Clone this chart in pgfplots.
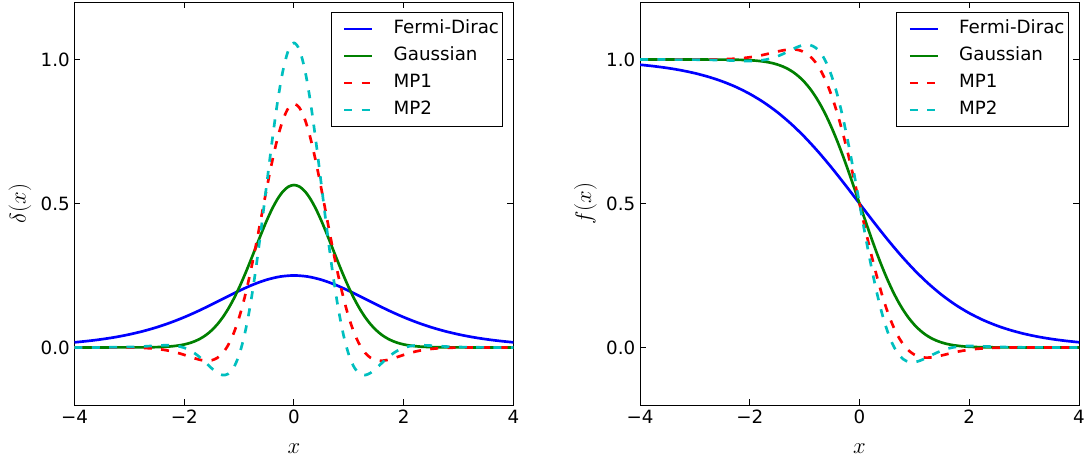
\documentclass[border=0pt]{standalone}
\usepackage[no-math]{fontspec}
\setmainfont{DejaVu Sans}
\usepackage{fix-cm}
\usepackage{pgfplots}
\usepackage{pgfplotstable}
\pgfplotsset{compat=1.18}

\definecolor{mpblue}{rgb}{0,0,1}
\definecolor{mpgreen}{rgb}{0,0.5,0}
\definecolor{mpred}{rgb}{1,0,0}
\definecolor{mpcyan}{rgb}{0,0.75,0.75}

% Fermi-Dirac: x, delta, occupation
\pgfplotstableread{
x      d       f
-4.00  0.0177  0.9820
-3.75  0.0225  0.9770
-3.50  0.0285  0.9707
-3.25  0.0359  0.9627
-3.00  0.0452  0.9526
-2.75  0.0565  0.9399
-2.50  0.0701  0.9241
-2.25  0.0863  0.9047
-2.00  0.1050  0.8808
-1.75  0.1261  0.8520
-1.50  0.1492  0.8176
-1.25  0.1731  0.7773
-1.00  0.1966  0.7311
-0.75  0.2179  0.6792
-0.50  0.2350  0.6225
-0.25  0.2461  0.5622
 0.00  0.2500  0.5000
 0.25  0.2461  0.4378
 0.50  0.2350  0.3775
 0.75  0.2179  0.3208
 1.00  0.1966  0.2689
 1.25  0.1731  0.2227
 1.50  0.1492  0.1824
 1.75  0.1261  0.1480
 2.00  0.1050  0.1192
 2.25  0.0863  0.0954
 2.50  0.0701  0.0759
 2.75  0.0565  0.0601
 3.00  0.0452  0.0474
 3.25  0.0359  0.0373
 3.50  0.0285  0.0293
 3.75  0.0225  0.0230
 4.00  0.0177  0.0180
}\fdtab

% delta functions: Gaussian, MP1, MP2
\pgfplotstableread{
x     g       mpa      mpb
-4.0  0.0000  0.0000   0.0000
-3.5  0.0000  0.0000   0.0001
-3.0  0.0001  -0.0005  0.0014
-2.9  0.0001  -0.0008  0.0019
-2.8  0.0002  -0.0014  0.0029
-2.7  0.0004  -0.0022  0.0039
-2.6  0.0007  -0.0034  0.0051
-2.5  0.0011  -0.0052  0.0063
-2.4  0.0018  -0.0076  0.0072
-2.3  0.0028  -0.0108  0.0075
-2.2  0.0045  -0.0149  0.0066
-2.1  0.0069  -0.0200  0.0039
-2.0  0.0103  -0.0258  -0.0013
-1.9  0.0153  -0.0322  -0.0097
-1.8  0.0221  -0.0384  -0.0216
-1.7  0.0314  -0.0436  -0.0368
-1.6  0.0436  -0.0462  -0.0544
-1.5  0.0595  -0.0446  -0.0725
-1.4  0.0795  -0.0366  -0.0878
-1.3  0.1041  -0.0198  -0.0960
-1.2  0.1337  0.0080   -0.0920
-1.1  0.1682  0.0488   -0.0703
-1.0  0.2076  0.1038   -0.0259
-0.9  0.2510  0.1732   0.0447
-0.8  0.2975  0.2558   0.1427
-0.7  0.3456  0.3491   0.2662
-0.6  0.3936  0.4487   0.4093
-0.5  0.4394  0.5492   0.5630
-0.4  0.4808  0.6442   0.7153
-0.3  0.5156  0.7270   0.8529
-0.2  0.5421  0.7914   0.9626
-0.1  0.5586  0.8323   1.0334
 0.0  0.5642  0.8463   1.0579
 0.1  0.5586  0.8323   1.0334
 0.2  0.5421  0.7914   0.9626
 0.3  0.5156  0.7270   0.8529
 0.4  0.4808  0.6442   0.7153
 0.5  0.4394  0.5492   0.5630
 0.6  0.3936  0.4487   0.4093
 0.7  0.3456  0.3491   0.2662
 0.8  0.2975  0.2558   0.1427
 0.9  0.2510  0.1732   0.0447
 1.0  0.2076  0.1038   -0.0259
 1.1  0.1682  0.0488   -0.0703
 1.2  0.1337  0.0080   -0.0920
 1.3  0.1041  -0.0198  -0.0960
 1.4  0.0795  -0.0366  -0.0878
 1.5  0.0595  -0.0446  -0.0725
 1.6  0.0436  -0.0462  -0.0544
 1.7  0.0314  -0.0436  -0.0368
 1.8  0.0221  -0.0384  -0.0216
 1.9  0.0153  -0.0322  -0.0097
 2.0  0.0103  -0.0258  -0.0013
 2.1  0.0069  -0.0200  0.0039
 2.2  0.0045  -0.0149  0.0066
 2.3  0.0028  -0.0108  0.0075
 2.4  0.0018  -0.0076  0.0072
 2.5  0.0011  -0.0052  0.0063
 2.6  0.0007  -0.0034  0.0051
 2.7  0.0004  -0.0022  0.0039
 2.8  0.0002  -0.0014  0.0029
 2.9  0.0001  -0.0008  0.0019
 3.0  0.0001  -0.0005  0.0014
 3.5  0.0000  0.0000   0.0001
 4.0  0.0000  0.0000   0.0000
}\deltab

% occupations: Gaussian, MP1, MP2
\pgfplotstableread{
x     g       mpa      mpb
-4.0  1.0000  1.0000   1.0000
-3.5  1.0000  1.0000   1.0000
-3.0  1.0000  1.0001   0.9997
-2.9  1.0000  1.0002   0.9995
-2.8  1.0000  1.0003   0.9993
-2.7  0.9999  1.0004   0.9989
-2.6  0.9999  1.0007   0.9985
-2.5  0.9998  1.0012   0.9979
-2.4  0.9996  1.0018   0.9972
-2.3  0.9994  1.0027   0.9965
-2.2  0.9991  1.0040   0.9958
-2.1  0.9985  1.0057   0.9952
-2.0  0.9977  1.0080   0.9951
-1.9  0.9964  1.0109   0.9956
-1.8  0.9945  1.0144   0.9971
-1.7  0.9919  1.0186   1.0000
-1.6  0.9882  1.0231   1.0046
-1.5  0.9830  1.0277   1.0109
-1.4  0.9761  1.0318   1.0190
-1.3  0.9670  1.0347   1.0282
-1.2  0.9552  1.0354   1.0378
-1.1  0.9401  1.0326   1.0461
-1.0  0.9213  1.0251   1.0511
-0.9  0.8984  1.0114   1.0504
-0.8  0.8710  0.9900   1.0412
-0.7  0.8389  0.9599   1.0210
-0.6  0.8019  0.9200   0.9873
-0.5  0.7602  0.8701   0.9387
-0.4  0.7142  0.8103   0.8748
-0.3  0.6643  0.7416   0.7962
-0.2  0.6113  0.6656   0.7051
-0.1  0.5562  0.5842   0.6050
 0.0  0.5000  0.5000   0.5000
 0.1  0.4438  0.4158   0.3950
 0.2  0.3887  0.3344   0.2949
 0.3  0.3357  0.2584   0.2038
 0.4  0.2858  0.1897   0.1252
 0.5  0.2398  0.1299   0.0613
 0.6  0.1981  0.0800   0.0127
 0.7  0.1611  0.0401   -0.0210
 0.8  0.1290  0.0100   -0.0412
 0.9  0.1016  -0.0114  -0.0504
 1.0  0.0787  -0.0251  -0.0511
 1.1  0.0599  -0.0326  -0.0461
 1.2  0.0448  -0.0354  -0.0378
 1.3  0.0330  -0.0347  -0.0282
 1.4  0.0239  -0.0318  -0.0190
 1.5  0.0170  -0.0277  -0.0109
 1.6  0.0118  -0.0231  -0.0046
 1.7  0.0081  -0.0186  0.0000
 1.8  0.0055  -0.0144  0.0029
 1.9  0.0036  -0.0109  0.0044
 2.0  0.0023  -0.0080  0.0049
 2.1  0.0015  -0.0057  0.0048
 2.2  0.0009  -0.0040  0.0042
 2.3  0.0006  -0.0027  0.0035
 2.4  0.0004  -0.0018  0.0028
 2.5  0.0002  -0.0012  0.0021
 2.6  0.0001  -0.0007  0.0015
 2.7  0.0001  -0.0004  0.0011
 2.8  0.0000  -0.0003  0.0007
 2.9  0.0000  -0.0002  0.0005
 3.0  0.0000  -0.0001  0.0003
 3.5  0.0000  0.0000   0.0000
 4.0  0.0000  0.0000   0.0000
}\occtab

\pgfplotsset{
  smear/.style={
    width=329.25pt, height=302.25pt, scale only axis,
    xmin=-4, xmax=4, ymin=-0.2, ymax=1.2,
    xtick={-4,-2,0,2,4}, xticklabels={−4,−2,0,2,4},
    ytick={0,0.5,1}, yticklabels={0.0,0.5,1.0},
    tick align=inside, major tick length=4.5pt,
    every tick/.style={black, line width=0.75pt},
    axis line style={line width=0.75pt},
    tick label style={font=\fontsize{13.7}{16}\selectfont},
    every axis x label/.style={at={(axis description cs:0.5,-0.109)}, anchor=center,
      font=\fontsize{17}{20}\selectfont},
    every axis y label/.style={at={(axis description cs:-0.124,0.5)}, anchor=center, rotate=90,
      font=\fontsize{17}{20}\selectfont},
    legend style={at={(axis description cs:1,1)}, anchor=north east,
      xshift=-7.5pt, yshift=-7.5pt, draw=black, line width=0.75pt,
      inner xsep=3pt, inner ysep=5.9pt,
      font=\fontsize{13.7}{16}\selectfont,
      nodes={inner sep=0pt, text height=10pt, text depth=3pt},
      row sep=7.25pt, column sep=15pt},
    legend cell align=left,
    legend image code/.code={\path (0pt,0pt); \draw[##1] (6pt,0pt) -- (27pt,0pt);},
  },
  fd/.style={mpblue, line width=2pt, smooth},
  ga/.style={mpgreen, line width=2pt, smooth},
  m1/.style={mpred, line width=2pt, smooth, dash pattern=on 6pt off 7pt},
  m2/.style={mpcyan, line width=2pt, smooth, dash pattern=on 6pt off 7pt},
}

\begin{document}
\begin{tikzpicture}
\begin{axis}[smear, xlabel={$x$}, ylabel={$\delta(x)$}]
\addplot[fd] table[x=x, y=d] {\fdtab};
\addplot[ga] table[x=x, y=g] {\deltab};
\addplot[m1] table[x=x, y=mpa] {\deltab};
\addplot[m2] table[x=x, y=mpb] {\deltab};
\legend{Fermi-Dirac, Gaussian, MP1, MP2}
\end{axis}
\begin{axis}[smear, xshift=424.125pt, xlabel={$x$}, ylabel={$f(x)$}]
\addplot[fd] table[x=x, y=f] {\fdtab};
\addplot[ga] table[x=x, y=g] {\occtab};
\addplot[m1] table[x=x, y=mpa] {\occtab};
\addplot[m2] table[x=x, y=mpb] {\occtab};
\legend{Fermi-Dirac, Gaussian, MP1, MP2}
\end{axis}
\pgfresetboundingbox
\useasboundingbox (-55.875pt,-42pt) rectangle (758.625pt,303.75pt);
\end{tikzpicture}
\end{document}
